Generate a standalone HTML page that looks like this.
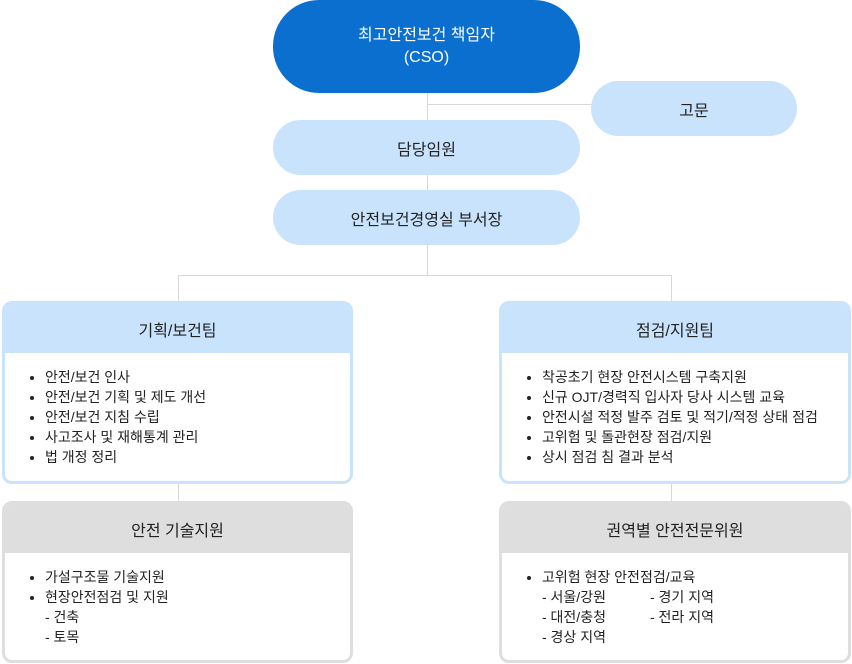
<!DOCTYPE html><html><head><meta charset="utf-8"><style>
body{margin:0;width:852px;height:664px;background:#fff;position:relative;font-family:"Liberation Sans","Noto Sans CJK KR",sans-serif;color:#222;overflow:hidden}
.a{position:absolute;box-sizing:border-box}
.pill{border-radius:28px;background:#c9e3fc;display:flex;align-items:center;justify-content:center;font-size:16px;color:#222;text-align:center}
.ln{position:absolute;background:#d8d8d8}
.box{border-radius:10px;overflow:hidden;border:3px solid #c9e3fc;background:#fff}
.box .h{height:49px;background:#c9e3fc;display:flex;align-items:center;justify-content:center;font-size:16px}
.g{border-color:#dedede}.g .h{background:#dedede}
ul{margin:14px 0 0;padding:0 0 0 40px;font-size:14px;line-height:20px}
.s{list-style:none;margin-left:0}
</style></head><body>
<div class="ln" style="left:427px;top:90px;width:1px;height:110px"></div>
<div class="ln" style="left:427px;top:104px;width:170px;height:1px"></div>
<div class="ln" style="left:427px;top:240px;width:1px;height:36px"></div>
<div class="ln" style="left:178px;top:275px;width:494px;height:1px"></div>
<div class="ln" style="left:178px;top:275px;width:1px;height:28px"></div>
<div class="ln" style="left:671px;top:275px;width:1px;height:28px"></div>
<div class="ln" style="left:178px;top:482px;width:1px;height:22px"></div>
<div class="ln" style="left:671px;top:482px;width:1px;height:22px"></div>
<div class="a pill" style="left:273px;top:0;width:307px;height:93px;border-radius:46px;background:#0b6fcf;color:#fff;line-height:22px">최고안전보건 책임자<br>(CSO)</div>
<div class="a pill" style="left:591px;top:81px;width:206px;height:55px">고문</div>
<div class="a pill" style="left:273px;top:120px;width:307px;height:55px">담당임원</div>
<div class="a pill" style="left:273px;top:190px;width:307px;height:55px">안전보건경영실 부서장</div>
<div class="a box" style="left:2px;top:301px;width:351px;height:183px"><div class="h">기획/보건팀</div>
<ul><li>안전/보건 인사</li><li>안전/보건 기획 및 제도 개선</li><li>안전/보건 지침 수립</li><li>사고조사 및 재해통계 관리</li><li>법 개정 정리</li></ul></div>
<div class="a box" style="left:499px;top:301px;width:352px;height:183px"><div class="h">점검/지원팀</div>
<ul><li>착공초기 현장 안전시스템 구축지원</li><li>신규 OJT/경력직 입사자 당사 시스템 교육</li><li>안전시설 적정 발주 검토 및 적기/적정 상태 점검</li><li>고위험 및 돌관현장 점검/지원</li><li>상시 점검 침 결과 분석</li></ul></div>
<div class="a box g" style="left:2px;top:501px;width:351px;height:162px"><div class="h">안전 기술지원</div>
<ul><li>가설구조물 기술지원</li><li>현장안전점검 및 지원</li><li class="s">- 건축</li><li class="s">- 토목</li></ul></div>
<div class="a box g" style="left:499px;top:501px;width:352px;height:162px"><div class="h">권역별 안전전문위원</div>
<ul><li>고위험 현장 안전점검/교육</li><li class="s" style="position:relative">- 서울/강원<span style="position:absolute;left:108px">- 경기 지역</span></li><li class="s" style="position:relative">- 대전/충청<span style="position:absolute;left:108px">- 전라 지역</span></li><li class="s">- 경상 지역</li></ul></div>
</body></html>
